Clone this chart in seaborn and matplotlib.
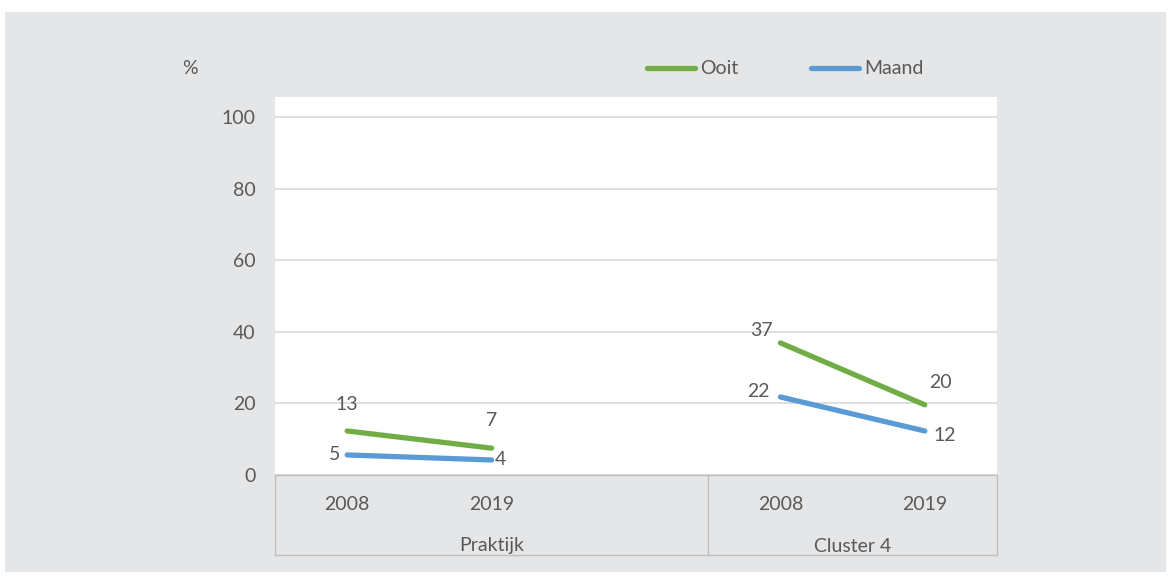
import matplotlib
matplotlib.use('Agg')
import matplotlib.pyplot as plt
import seaborn as sns
import pandas as pd
from matplotlib.patches import Rectangle
from matplotlib.lines import Line2D

# data
groups = ['Praktijk', 'Cluster 4']
years = ['2008', '2019']
ooit = [12.3, 7.5, 36.9, 19.6]
maand = [5.6, 4.2, 21.8, 12.3]
ooit_labels = ['13', '7', '37', '20']
maand_labels = ['5', '4', '22', '12']
slots = [0, 1, 3, 4]          # empty slot between the two groups

green = '#70ad47'
blue = '#5b9bd5'
txt = '#595959'
fs = 14

rows = []
for i, s in enumerate(slots):
    g = groups[0] if i < 2 else groups[1]
    rows.append({'slot': s, 'value': ooit[i], 'series': 'Ooit', 'group': g})
    rows.append({'slot': s, 'value': maand[i], 'series': 'Maand', 'group': g})
df = pd.DataFrame(rows)

sns.set_style('white')
plt.rcParams['font.family'] = ['Lato', 'DejaVu Sans']
plt.rcParams['font.size'] = fs

fig = plt.figure(figsize=(11.71, 5.78), dpi=100, facecolor='white')
fig.patches.append(Rectangle((5 / 1171, 1 - 572 / 578), 1161 / 1171, 560 / 578,
                             transform=fig.transFigure, facecolor='#e5e6e8',
                             edgecolor='none', zorder=-1))
ax = fig.add_axes([275 / 1171, 1 - 475 / 578, 722 / 1171, 378 / 578])
ax.set_zorder(1)
ax.set_facecolor('white')

sns.lineplot(data=df, x='slot', y='value', hue='series', units='group',
             estimator=None, palette={'Ooit': green, 'Maand': blue},
             linewidth=3.8, legend=False, ax=ax, solid_capstyle='round')

ax.set_xlim(-0.5, 4.5)
ax.set_ylim(0, 105.6)
ax.set_yticks(range(0, 101, 20))
ax.yaxis.grid(True, color='#d9d9d9', linewidth=1.2)
ax.set_axisbelow(True)
for sp in ax.spines.values():
    sp.set_visible(False)
ax.tick_params(axis='y', length=0, pad=14, colors=txt, labelsize=fs)
ax.set_xticks([])
ax.set_xlabel('')
ax.set_ylabel('')

# data labels (offsets in points)
ooit_off = [(0, 19, 'center'), (0, 20, 'center'), (-14, 9, 'center'), (11, 16, 'center')]
maand_off = [(-5, 0, 'right'), (2, 0, 'left'), (-8, 4, 'right'), (6, -3, 'left')]
for i, s in enumerate(slots):
    dx, dy, ha = ooit_off[i]
    ax.annotate(ooit_labels[i], (s, ooit[i]), xytext=(dx, dy), textcoords='offset points',
                ha=ha, va='center', color=txt, fontsize=fs)
    dx, dy, ha = maand_off[i]
    ax.annotate(maand_labels[i], (s, maand[i]), xytext=(dx, dy), textcoords='offset points',
                ha=ha, va='center', color=txt, fontsize=fs)

# category axis box
trans = ax.get_xaxis_transform()
h = 378
box_bottom = -80 / h
lc = '#bfbfbf'
ax.add_line(Line2D([-0.5, 4.5], [0, 0], transform=trans, color=lc, lw=1, clip_on=False))
ax.add_line(Line2D([-0.5, 4.5], [box_bottom, box_bottom], transform=trans, color=lc, lw=1, clip_on=False))
for xv in [-0.5, 2.5, 4.5]:
    ax.add_line(Line2D([xv, xv], [0, box_bottom], transform=trans, color=lc, lw=1, clip_on=False))
for i, s in enumerate(slots):
    ax.text(s, -30 / h, years[i % 2], transform=trans, ha='center', va='center',
            color=txt, fontsize=fs)
ax.text(1.0, -71 / h, groups[0], transform=trans, ha='center', va='center', color=txt, fontsize=fs)
ax.text(3.5, -71 / h, groups[1], transform=trans, ha='center', va='center', color=txt, fontsize=fs)

# % label and legend
fig.text(190 / 1171, 1 - 68 / 578, '%', ha='center', va='center', color=txt, fontsize=fs)
for x0, col, name in [(647, green, 'Ooit'), (811, blue, 'Maand')]:
    fig.add_artist(Line2D([x0 / 1171, (x0 + 48) / 1171], [1 - 68 / 578, 1 - 68 / 578],
                          transform=fig.transFigure, color=col, lw=3.8, solid_capstyle='round'))
    fig.text((x0 + 53) / 1171, 1 - 68 / 578, name, ha='left', va='center', color=txt, fontsize=fs)

fig.savefig('out.png', dpi=100, facecolor='white')
